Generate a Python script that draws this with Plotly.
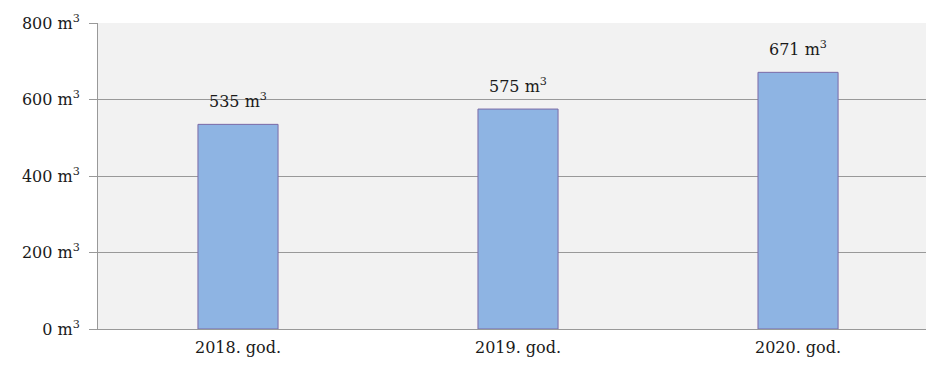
import plotly.graph_objects as go

categories = ["2018. god.", "2019. god.", "2020. god."]
values = [535, 575, 671]
y_ticks = [0, 200, 400, 600, 800]
y_tick_labels = [f"{v} m<sup>3</sup>" for v in y_ticks]
bar_labels = [f"{v} m<sup>3</sup>" for v in values]

FONT = "DejaVu Serif"
TXT = "#1a1a1a"

fig = go.Figure()
fig.add_trace(go.Bar(
    x=list(range(len(categories))),
    y=values,
    width=0.286,
    marker=dict(color="#8eb4e3", line=dict(color="#7b6aa6", width=1)),
    hoverinfo="skip",
))

for i, (v, lab) in enumerate(zip(values, bar_labels)):
    fig.add_annotation(x=i, y=v, text=lab, showarrow=False, yanchor="bottom",
                       yshift=11, font=dict(family=FONT, size=16, color=TXT))

fig.update_layout(
    width=926, height=369,
    margin=dict(l=98, r=0, t=23, b=40),
    paper_bgcolor="white",
    plot_bgcolor="#f2f2f2",
    showlegend=False,
    font=dict(family=FONT, size=16, color=TXT),
    xaxis=dict(
        range=[-0.5, 2.457],
        tickmode="array",
        tickvals=list(range(len(categories))),
        ticktext=categories,
        showgrid=False,
        showline=True, linecolor="#999", linewidth=1,
        ticks="", zeroline=False,
        ticklabelstandoff=4,
        tickfont=dict(family=FONT, size=16, color=TXT),
    ),
    yaxis=dict(
        range=[0, 800],
        tickmode="array",
        tickvals=y_ticks,
        ticktext=y_tick_labels,
        showgrid=True, gridcolor="#999", gridwidth=1,
        showline=True, linecolor="#999", linewidth=1,
        ticks="outside", ticklen=8, tickcolor="#999",
        zeroline=False,
        ticklabelstandoff=6,
        tickfont=dict(family=FONT, size=16, color=TXT),
    ),
)

fig.write_html("out.html")
